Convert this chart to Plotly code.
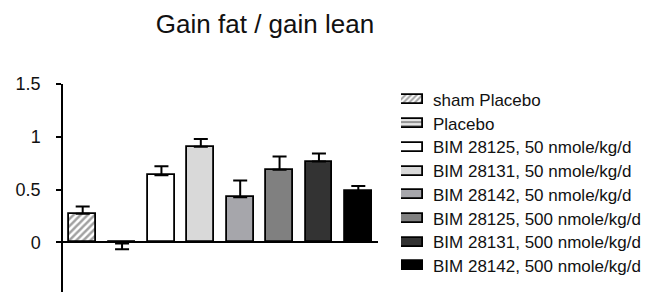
import plotly.graph_objects as go

# ---- data ----
groups = ["sham Placebo", "Placebo",
          "BIM 28125, 50 nmole/kg/d", "BIM 28131, 50 nmole/kg/d", "BIM 28142, 50 nmole/kg/d",
          "BIM 28125, 500 nmole/kg/d", "BIM 28131, 500 nmole/kg/d", "BIM 28142, 500 nmole/kg/d"]
ratio = [0.27, -0.01, 0.636, 0.905, 0.427, 0.687, 0.766, 0.487]
sem = [0.07, 0.055, 0.085, 0.075, 0.16, 0.127, 0.076, 0.048]
fill_colors = ["#ffffff", "#e6e6e6", "#ffffff", "#d9d9d9", "#a6a6ab", "#808080", "#333333", "#000000"]
patterns = ["/", "-", "", "", "", "", "", ""]
pattern_fg = ["#000000", "#707070", "#000000", "#000000", "#000000", "#000000", "#000000", "#000000"]
ytick_vals = [0, 0.5, 1, 1.5]
ytick_text = ["0", "0.5", "1", "1.5"]
title_text = "Gain fat / gain lean"

FONT = "Liberation Sans, Arial, sans-serif"
OFF = 8  # page body margin

err_plus = [s if v > 0 else 0 for v, s in zip(ratio, sem)]
err_minus = [s if v <= 0 else 0 for v, s in zip(ratio, sem)]

fig = go.Figure()

fig.add_trace(go.Bar(
    x=groups, y=ratio, width=0.68,
    marker=dict(color=fill_colors, line=dict(color="#000000", width=1.8),
                pattern=dict(shape=patterns, fgcolor=pattern_fg, size=5, solidity=0.5)),
    error_y=dict(type="data", symmetric=False, array=err_plus, arrayminus=err_minus,
                 color="#000000", thickness=2, width=7),
    showlegend=False, xaxis="x", yaxis="y", cliponaxis=False,
))

# legend swatches as horizontal bars on a second axis pair
fig.add_trace(go.Bar(
    y=groups, x=[1] * len(groups), orientation="h", width=0.38,
    marker=dict(color=fill_colors, line=dict(color="#000000", width=1.8),
                pattern=dict(shape=patterns, fgcolor=pattern_fg, size=4, solidity=0.5)),
    showlegend=False, xaxis="x2", yaxis="y2", hoverinfo="skip", cliponaxis=False,
))

W, H = 656 - OFF, 292 - OFF
ml, mt = 63 - OFF, 84 - OFF
pw = W - ml
ph = H - mt

def px_x(p):
    return (p - OFF - ml) / pw

def px_y(p):
    return (H - (p - OFF)) / ph

fig.update_layout(
    width=W, height=H,
    margin=dict(l=ml, r=0, t=mt, b=0, pad=0),
    paper_bgcolor="white", plot_bgcolor="white",
    font=dict(family=FONT, color="#000000"),
    showlegend=False,
    bargap=0,
    title=dict(text=title_text, x=(265 - OFF) / W, xanchor="center", y=1 - (24 - OFF) / H,
               yanchor="middle", font=dict(family=FONT, size=26, color="#111111")),
    xaxis=dict(domain=[0, px_x(378)], range=[-0.5, 7.5], visible=False, fixedrange=True),
    yaxis=dict(domain=[0, 1], range=[-0.47, 1.5], tickvals=ytick_vals, ticktext=ytick_text,
               showline=True, linecolor="#000000", linewidth=1.5,
               ticks="outside", ticklen=5, tickwidth=1.5, tickcolor="#000000",
               showgrid=False, zeroline=True, zerolinecolor="#000000", zerolinewidth=1.5,
               tickfont=dict(family=FONT, size=18, color="#111111"), ticklabelstandoff=12),
    xaxis2=dict(domain=[px_x(401), px_x(423)], range=[0, 1], anchor="y2", visible=False),
    yaxis2=dict(domain=[px_y(277.9), px_y(88.1)], anchor="x2", side="right",
                categoryorder="array", categoryarray=groups[::-1],
                showline=False, showgrid=False, zeroline=False, ticks="",
                tickfont=dict(family=FONT, size=17, color="#111111"), ticklabelstandoff=9),
)

fig.write_html("out.html")
